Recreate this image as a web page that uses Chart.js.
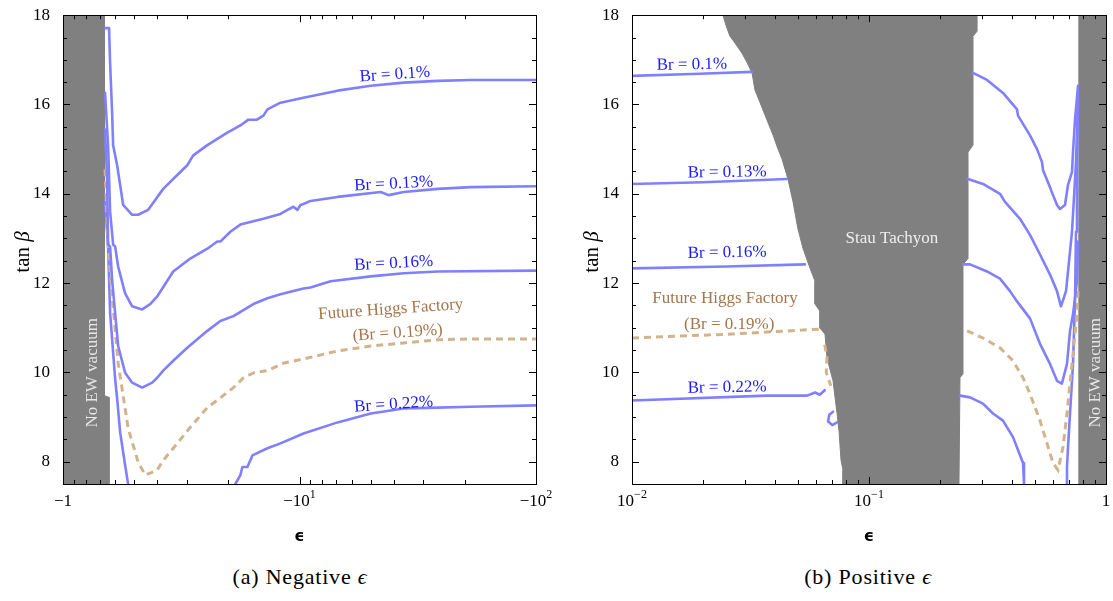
<!DOCTYPE html>
<html>
<head>
<meta charset="utf-8">
<script src="https://cdn.jsdelivr.net/npm/chart.js@4.4.1/dist/chart.umd.min.js"></script>
<style>
  html, body { margin: 0; padding: 0; background: #fff; }
  #wrap { position: relative; width: 1113px; height: 601px; overflow: hidden; }
  canvas { position: absolute; top: 0; }
  #negChart { left: 0; }
  #posChart { left: 556px; }
  .caption { position: absolute; top: 564px; width: 400px; text-align: center;
    font-family: 'Liberation Serif', 'DejaVu Serif', serif; font-size: 22px; letter-spacing: 0.8px;
    line-height: 26px; color: #000; }
</style>
</head>
<body>
<div id="wrap">
  <canvas id="negChart" width="556" height="545"></canvas>
  <canvas id="posChart" width="557" height="545"></canvas>
  <div class="caption" style="left:100px">(a) Negative <i>ϵ</i></div>
  <div class="caption" style="left:668px">(b) Positive <i>ϵ</i></div>
</div>
<script>
// ---- panel (a): negative epsilon, x stored as |epsilon| ----
const negVacuum = [[1, 18], [1.496, 18], [1.496, 9.48], [1.566, 9.44], [1.566, 7.5], [1, 7.5]];
const negBr010 = [[1.506, 17.71], [1.566, 17.71], [1.582, 16.93], [1.613, 15.82], [1.629, 15.09], [1.694, 14.64],
  [1.744, 14.20], [1.796, 13.75], [1.961, 13.53], [2.079, 13.53], [2.292, 13.64], [2.454, 13.86], [2.653, 14.11],
  [3.042, 14.42], [3.353, 14.64], [3.554, 14.86], [4.076, 15.09], [4.954, 15.37], [5.623, 15.53], [6.079, 15.66],
  [6.6, 15.66], [7.038, 15.75], [7.317, 15.89], [8.309, 16.04], [10.39, 16.15], [14.49, 16.31], [20.0, 16.42],
  [27.59, 16.49], [38.42, 16.53], [53.04, 16.55], [100, 16.55]];
const negBr013 = [[1.506, 16.26], [1.551, 15.09], [1.582, 13.60], [1.629, 12.86], [1.661, 12.82], [1.711, 12.37],
  [1.831, 11.77], [1.961, 11.48], [2.161, 11.41], [2.337, 11.53], [2.502, 11.70], [2.925, 12.26], [3.452, 12.55],
  [4.076, 12.77], [4.493, 12.93], [4.627, 12.93], [5.101, 13.15], [5.623, 13.31], [7.038, 13.44], [8.309, 13.55],
  [8.896, 13.64], [9.433, 13.71], [9.8, 13.64], [10.1, 13.75], [10.39, 13.77], [11.13, 13.84], [14.49, 13.93],
  [22.04, 14.04], [23.83, 13.97], [27.59, 14.04], [38.42, 14.11], [53.04, 14.15], [100, 14.17]];
const negBr016 = [[1.506, 15.44], [1.536, 14.33], [1.551, 12.86], [1.582, 12.82], [1.613, 12.08], [1.661, 11.33],
  [1.711, 10.59], [1.831, 9.99], [1.961, 9.77], [2.161, 9.66], [2.383, 9.77], [2.502, 9.88], [2.653, 10.04],
  [2.925, 10.26], [3.353, 10.55], [4.076, 10.93], [4.627, 11.15], [5.253, 11.26], [6.384, 11.53], [7.317, 11.66],
  [8.309, 11.75], [10.39, 11.88], [11.13, 11.90], [13.53, 12.04], [20.0, 12.15], [27.59, 12.22], [38.42, 12.26],
  [100, 12.28]];
const negBr019 = [[1.506, 14.55], [1.551, 12.86], [1.613, 11.70], [1.661, 10.97], [1.711, 10.21], [1.796, 9.48],
  [1.885, 8.75], [2.079, 7.99], [2.226, 7.70], [2.502, 7.81], [2.653, 8.03], [3.042, 8.41], [3.452, 8.77],
  [4.076, 9.21], [4.627, 9.43], [5.253, 9.66], [5.8, 9.88], [6.384, 9.99], [7.317, 10.04], [8.6, 10.21],
  [10.39, 10.30], [14.49, 10.48], [20.0, 10.59], [27.59, 10.66], [38.42, 10.73], [53.04, 10.75], [100, 10.75]];
const negBr022Left = [[1.506, 13.82], [1.551, 12.82], [1.582, 11.33], [1.661, 9.86], [1.694, 9.41], [1.744, 8.66],
  [1.831, 7.92], [1.885, 7.50]];
const negBr022Right = [[5.356, 7.50], [5.623, 7.70], [5.734, 7.88], [6.020, 7.88], [6.322, 8.14], [7.317, 8.30],
  [8.309, 8.41], [10.39, 8.63], [14.49, 8.88], [20.0, 9.08], [27.59, 9.19], [38.42, 9.21], [53.04, 9.23], [100, 9.26]];

// ---- panel (b): positive epsilon ----
const posVacuum = [[0.764, 18], [1, 18], [1, 7.5], [0.764, 7.5]];
const posStau = [[0.0242, 18], [0.0250, 17.75], [0.0259, 17.53], [0.0270, 17.40], [0.0291, 17.15], [0.0305, 16.95],
  [0.0321, 16.71], [0.0330, 16.33], [0.0347, 16.04], [0.0365, 15.75], [0.0394, 15.31], [0.0410, 15.05],
  [0.0430, 14.77], [0.0455, 14.33], [0.0478, 13.82], [0.0501, 13.22], [0.0527, 12.77],
  [0.0564, 12.33], [0.0592, 12.04], [0.0592, 11.53], [0.0621, 11.37], [0.0621, 10.99], [0.0652, 10.86],
  [0.0665, 10.32], [0.0705, 9.81], [0.0733, 9.08], [0.0747, 8.70], [0.0762, 8.03], [0.0777, 7.81], [0.0777, 7.5],
  [0.2397, 7.5], [0.2421, 9.88], [0.2492, 9.97], [0.2492, 12.42], [0.2617, 12.55], [0.2617, 14.93], [0.2747, 15.09],
  [0.2747, 17.53], [0.2858, 17.64], [0.2858, 18]];
const posBr010Left = [[0.01, 16.64], [0.01936, 16.69], [0.03209, 16.73]];
const posBr010Right = [[0.2747, 16.71], [0.3147, 16.55], [0.3676, 16.26], [0.4213, 15.89], [0.4253, 15.75],
  [0.4778, 15.31], [0.5117, 15.00], [0.5370, 14.71], [0.5423, 14.53], [0.5693, 14.26], [0.5977, 13.97],
  [0.6213, 13.75], [0.6394, 13.66], [0.6714, 13.75], [0.6914, 14.20], [0.7187, 14.49], [0.7258, 14.93],
  [0.7400, 15.66], [0.7618, 16.42]];
const posBr013Left = [[0.01, 14.22], [0.02, 14.26], [0.0451, 14.33]];
const posBr013Right = [[0.2617, 14.33], [0.3027, 14.22], [0.3570, 14.00], [0.3748, 13.82], [0.4337, 13.44],
  [0.4778, 13.08], [0.5267, 12.64], [0.5804, 12.19], [0.6213, 11.82], [0.6456, 11.48], [0.6780, 11.82],
  [0.6914, 12.26], [0.7187, 13.15], [0.7472, 14.71], [0.7618, 16.04]];
const posBr016Left = [[0.01, 12.33], [0.025, 12.37], [0.0537, 12.42]];
const posBr016Right = [[0.2492, 12.42], [0.2669, 12.42], [0.3147, 12.26], [0.3570, 12.10], [0.3935, 11.82],
  [0.4213, 11.59], [0.4778, 11.21], [0.5267, 10.64], [0.5804, 10.19], [0.6213, 9.81], [0.6517, 9.75],
  [0.6845, 10.19], [0.7049, 10.93], [0.7258, 11.30], [0.7544, 12.04], [0.7618, 12.93]];
const posBr019Left = [[0.01, 10.77], [0.02667, 10.86], [0.0621, 10.97]];
const posBr019Right = [[0.2592, 10.93], [0.3027, 10.77], [0.3570, 10.55], [0.4052, 10.26], [0.4466, 9.88],
  [0.4778, 9.52], [0.5267, 8.92], [0.5638, 8.41], [0.5977, 7.97], [0.6274, 7.81], [0.6582, 8.32], [0.6845, 9.08],
  [0.7187, 10.19], [0.7544, 11.30], [0.7618, 11.82]];
const posBr019Bits = [[0.0650, 10.62], [0.0665, 10.35], [0.0660, 10.0], [0.0690, 9.70]];
const posBr022Left = [[0.01, 9.37], [0.03712, 9.48], [0.0548, 9.48], [0.0592, 9.55], [0.0620, 9.50], [0.0650, 9.60]];
const posBr022Bits = [[0.0705, 9.12], [0.0680, 9.05], [0.0672, 8.90], [0.0700, 8.82], [0.0733, 8.88]];
const posBr022Mid = [[0.2421, 9.48], [0.2669, 9.44], [0.3027, 9.30], [0.3336, 9.08], [0.3676, 8.92], [0.4052, 8.55],
  [0.4466, 7.97], [0.4508, 7.50]];
const posBr022Right = [[0.6845, 7.50], [0.6845, 7.88], [0.6914, 8.32], [0.7049, 9.08], [0.7258, 10.19],
  [0.7400, 11.59], [0.7472, 13.15], [0.7544, 14.71], [0.7618, 16.26]];

// ---- ticks ----
const yTickValues = [7.5, 8, 8.5, 9, 9.5, 10, 10.5, 11, 11.5, 12, 12.5, 13, 13.5, 14, 14.5, 15, 15.5, 16, 16.5, 17, 17.5, 18];
const yLabelValues = [8, 10, 12, 14, 16, 18];
const negMajorTicks = [1, 10, 100];
const negMinorTicks = [1.111, 1.25, 1.429, 1.667, 2, 2.5, 3.333, 5, 11.11, 12.5, 14.29, 16.67, 20, 25, 33.33, 50];
const posMajorTicks = [0.01, 0.1, 1];
const posMinorTicks = [0.02, 0.03, 0.04, 0.05, 0.06, 0.07, 0.08, 0.09, 0.2, 0.3, 0.4, 0.5, 0.6, 0.7, 0.8, 0.9];
const negTickText = [['−1', ''], ['−10', '1'], ['−10', '2']];
const posTickText = [['10', '−2'], ['10', '−1'], ['1', '']];

const BLUE_LINE = '#8080ff';
const TAN_LINE = '#d2b48c';
const BLUE_TEXT = '#1a1aff';
const BROWN_TEXT = '#a3764b';
const GRAY = '#808080';
const SERIF = "'Liberation Serif', 'DejaVu Serif', serif";

const negLabels = [
  { t: 'Br = 0.1%', x: 25.3, y: 16.67, c: BLUE_TEXT, r: -4 },
  { t: 'Br = 0.13%', x: 25.0, y: 14.22, c: BLUE_TEXT, r: -3 },
  { t: 'Br = 0.16%', x: 25.0, y: 12.44, c: BLUE_TEXT, r: -3 },
  { t: 'Future Higgs Factory', x: 24.3, y: 11.41, c: BROWN_TEXT, r: -4 },
  { t: '(Br = 0.19%)', x: 26.0, y: 10.88, c: BROWN_TEXT, r: -4 },
  { t: 'Br = 0.22%', x: 25.0, y: 9.28, c: BLUE_TEXT, r: -4 },
  { t: 'No EW vacuum', x: 1.327, y: 9.99, c: '#e6e6e6', r: -90 }
];
const posLabels = [
  { t: 'Br = 0.1%', x: 0.0179, y: 16.89, c: BLUE_TEXT, r: -1 },
  { t: 'Br = 0.13%', x: 0.0252, y: 14.48, c: BLUE_TEXT, r: -1 },
  { t: 'Br = 0.16%', x: 0.0252, y: 12.68, c: BLUE_TEXT, r: -1 },
  { t: 'Future Higgs Factory', x: 0.0247, y: 11.66, c: BROWN_TEXT, r: 0 },
  { t: '(Br = 0.19%)', x: 0.0257, y: 11.08, c: BROWN_TEXT, r: 0 },
  { t: 'Br = 0.22%', x: 0.0252, y: 9.66, c: BLUE_TEXT, r: -1 },
  { t: 'Stau Tachyon', x: 0.125, y: 12.99, c: '#eeeeee', r: 0 },
  { t: 'No EW vacuum', x: 0.899, y: 9.99, c: '#e6e6e6', r: -90 }
];

const pts = arr => arr.map(p => ({ x: p[0], y: p[1] }));
const region = arr => ({ data: pts(arr), fill: 'shape', backgroundColor: GRAY, borderColor: GRAY, borderWidth: 1, pointRadius: 0, order: 5 });
const contour = arr => ({ data: pts(arr), borderColor: BLUE_LINE, borderWidth: 2.6, pointRadius: 0, tension: 0, borderJoinStyle: 'round', borderCapStyle: 'round', fill: false, order: 1 });
const dashed = arr => ({ data: pts(arr), borderColor: TAN_LINE, borderWidth: 3, borderDash: [7, 5], pointRadius: 0, tension: 0, fill: false, order: 1 });

function makeDecor(cfg) {
  return {
    id: 'panelDecor',
    afterDatasetsDraw(chart) {
      const { ctx, chartArea: a, scales: { x, y } } = chart;
      ctx.save();
      ctx.strokeStyle = '#000';
      ctx.lineWidth = 1;
      const seg = (x1, y1, x2, y2) => { ctx.beginPath(); ctx.moveTo(x1, y1); ctx.lineTo(x2, y2); ctx.stroke(); };
      const xt = cfg.major.map(v => [v, 7]).concat(cfg.minor.map(v => [v, 4]));
      xt.forEach(([v, len]) => {
        const px = Math.round(x.getPixelForValue(v)) + 0.5;
        seg(px, a.bottom, px, a.bottom - len);
        seg(px, a.top, px, a.top + len);
      });
      yTickValues.forEach(v => {
        const py = Math.round(y.getPixelForValue(v)) + 0.5;
        const len = yLabelValues.includes(v) ? 7 : 4;
        seg(a.left, py, a.left + len, py);
        seg(a.right, py, a.right - len, py);
      });
      ctx.strokeRect(Math.round(a.left) + 0.5, Math.round(a.top) + 0.5, Math.round(a.right - a.left), Math.round(a.bottom - a.top));

      // x tick labels with superscripts
      ctx.fillStyle = '#000';
      ctx.textBaseline = 'alphabetic';
      ctx.textAlign = 'left';
      cfg.major.forEach((v, i) => {
        const [base, sup] = cfg.tickText[i];
        ctx.font = '17px ' + SERIF;
        const wb = ctx.measureText(base).width;
        ctx.font = '12px ' + SERIF;
        const ws = sup ? ctx.measureText(sup).width : 0;
        const left = x.getPixelForValue(v) - (wb + ws) / 2;
        ctx.font = '17px ' + SERIF;
        ctx.fillText(base, left, a.bottom + 22);
        if (sup) { ctx.font = '12px ' + SERIF; ctx.fillText(sup, left + wb, a.bottom + 14); }
      });

      // x title
      ctx.textAlign = 'center';
      ctx.textBaseline = 'middle';
      ctx.font = 'bold 16px "DejaVu Sans", sans-serif';
      ctx.fillText('ϵ', (a.left + a.right) / 2, a.bottom + 53);

      // y title: tan beta
      ctx.save();
      ctx.translate(a.left - 40, 252);
      ctx.rotate(-Math.PI / 2);
      ctx.font = '21px ' + SERIF;
      const w1 = ctx.measureText('tan ').width;
      ctx.font = 'italic 21px ' + SERIF;
      const w2 = ctx.measureText('β').width;
      ctx.textAlign = 'left';
      ctx.font = '21px ' + SERIF;
      ctx.fillText('tan ', -(w1 + w2) / 2, 0);
      ctx.font = 'italic 21px ' + SERIF;
      ctx.fillText('β', -(w1 + w2) / 2 + w1, 0);
      ctx.restore();

      // annotations
      cfg.labels.forEach(l => {
        ctx.save();
        ctx.translate(x.getPixelForValue(l.x), y.getPixelForValue(l.y));
        ctx.rotate(l.r * Math.PI / 180);
        ctx.fillStyle = l.c;
        ctx.font = '17px ' + SERIF;
        ctx.textAlign = 'center';
        ctx.textBaseline = 'middle';
        ctx.fillText(l.t, 0, 0);
        ctx.restore();
      });
      ctx.restore();
    }
  };
}

function makePanel(id, cfg) {
  return new Chart(document.getElementById(id), {
    type: 'line',
    data: { datasets: cfg.datasets },
    options: {
      responsive: false,
      animation: false,
      devicePixelRatio: 1,
      layout: { padding: { top: 12, right: cfg.padRight, left: 0, bottom: 0 } },
      plugins: { legend: { display: false }, tooltip: { enabled: false } },
      scales: {
        x: {
          type: 'logarithmic', min: cfg.xMin, max: cfg.xMax,
          grid: { display: false }, border: { display: false }, ticks: { display: false },
          afterFit(s) { s.height = 61; }
        },
        y: {
          type: 'linear', min: 7.5, max: 18,
          grid: { display: false }, border: { display: false },
          afterBuildTicks(s) { s.ticks = yTickValues.map(v => ({ value: v })); },
          ticks: {
            autoSkip: false, padding: 5, color: '#000', font: { family: SERIF, size: 17 },
            callback: v => (yLabelValues.includes(v) ? String(v) : '')
          },
          afterFit(s) { s.width = cfg.yWidth; }
        }
      }
    },
    plugins: [makeDecor(cfg)]
  });
}

makePanel('negChart', {
  xMin: 1, xMax: 100, padRight: 20, yWidth: 63,
  major: negMajorTicks, minor: negMinorTicks, tickText: negTickText, labels: negLabels,
  datasets: [
    region(negVacuum),
    contour(negBr010), contour(negBr013), contour(negBr016),
    dashed(negBr019),
    contour(negBr022Left), contour(negBr022Right)
  ]
});

makePanel('posChart', {
  xMin: 0.01, xMax: 1, padRight: 7, yWidth: 76,
  major: posMajorTicks, minor: posMinorTicks, tickText: posTickText, labels: posLabels,
  datasets: [
    region(posStau), region(posVacuum),
    contour(posBr010Left), contour(posBr010Right),
    contour(posBr013Left), contour(posBr013Right),
    contour(posBr016Left), contour(posBr016Right),
    dashed(posBr019Left), dashed(posBr019Right), dashed(posBr019Bits),
    contour(posBr022Left), contour(posBr022Bits), contour(posBr022Mid), contour(posBr022Right)
  ]
});
</script>
</body>
</html>
